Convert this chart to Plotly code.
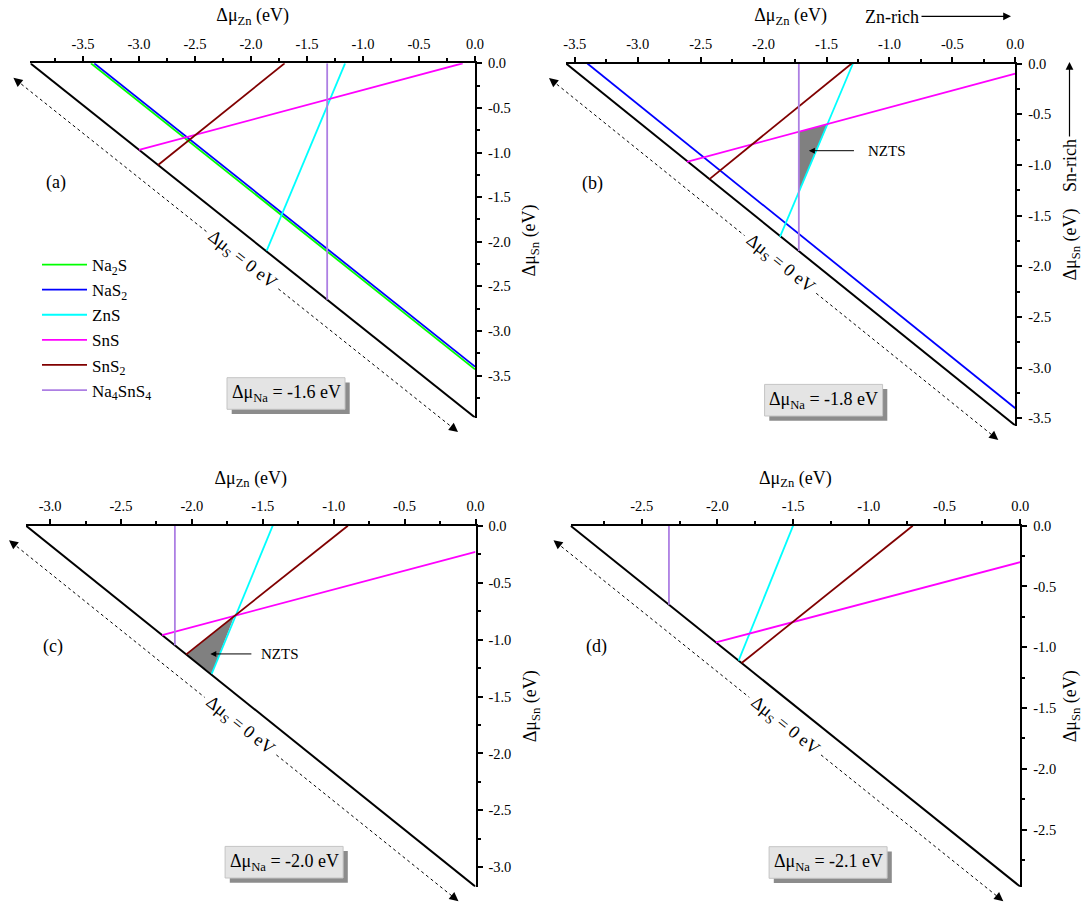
import math
import plotly.graph_objects as go

W, H = 1083, 904
FONT = "Liberation Serif"

# ---- data -------------------------------------------------------------
# Δμ_Na of each panel and the Δμ_S = 0 limit (Δμ_Zn + Δμ_Sn = limit)
panel_tags = ["(a)", "(b)", "(c)", "(d)"]
mu_na_labels = ["-1.6", "-1.8", "-2.0", "-2.1"]
s_limit = [-3.97, -3.57, -3.17, -2.97]

# tick labels of the Δμ_Zn (top) and Δμ_Sn (right) axes
zn_ticks = [
    ["-3.5", "-3.0", "-2.5", "-2.0", "-1.5", "-1.0", "-0.5", "0.0"],
    ["-3.5", "-3.0", "-2.5", "-2.0", "-1.5", "-1.0", "-0.5", "0.0"],
    ["-3.0", "-2.5", "-2.0", "-1.5", "-1.0", "-0.5", "0.0"],
    ["-2.5", "-2.0", "-1.5", "-1.0", "-0.5", "0.0"],
]
sn_ticks = [
    ["0.0", "-0.5", "-1.0", "-1.5", "-2.0", "-2.5", "-3.0", "-3.5"],
    ["0.0", "-0.5", "-1.0", "-1.5", "-2.0", "-2.5", "-3.0", "-3.5"],
    ["0.0", "-0.5", "-1.0", "-1.5", "-2.0", "-2.5", "-3.0"],
    ["0.0", "-0.5", "-1.0", "-1.5", "-2.0", "-2.5"],
]

# phase-boundary segments (Δμ_Zn, Δμ_Sn end points), keyed by panel index
na2s_x = {0: [-3.43, 0.0]}
na2s_y = {0: [0.0, -3.43]}
nas2_x = {0: [-3.40, 0.0], 1: [-3.40, 0.0]}
nas2_y = {0: [0.0, -3.40], 1: [0.0, -3.40]}
zns_x = {0: [-1.16, -1.86], 1: [-1.29, -1.87], 2: [-1.43, -1.86], 3: [-1.50, -1.86]}
zns_y = {0: [0.0, -2.10], 1: [0.0, -1.71], 2: [0.0, -1.30], 3: [0.0, -1.11]}
sns_x = {0: [-0.11, -3.00], 1: [0.0, -2.61], 2: [0.0, -2.21], 3: [0.0, -2.01]}
sns_y = {0: [0.0, -0.97], 1: [-0.10, -0.97], 2: [-0.23, -0.96], 3: [-0.30, -0.96]}
sns2_x = {0: [-1.70, -2.83], 1: [-1.30, -2.43], 2: [-0.90, -2.04], 3: [-0.71, -1.84]}
sns2_y = {0: [0.0, -1.14], 1: [0.0, -1.14], 2: [0.0, -1.13], 3: [0.0, -1.13]}
na4sns4_x = {0: [-1.32, -1.32], 1: [-1.72, -1.72], 2: [-2.12, -2.12], 3: [-2.32, -2.32]}
na4sns4_y = {0: [0.0, -2.65], 1: [0.0, -1.85], 2: [0.0, -1.05], 3: [0.0, -0.65]}

# single-phase Na2ZnSnS4 stability region
nzts_x = {1: [-1.72, -1.49, -1.72], 2: [-1.70, -2.04, -1.86]}
nzts_y = {1: [-0.67, -0.60, -1.27], 2: [-0.79, -1.13, -1.30]}
# NZTS pointer: arrow tip, arrow tail (Δμ_Zn) and label position
nzts_tip = {1: (-1.64, -0.86), 2: (-1.87, -1.126)}
nzts_tail_x = {1: -1.27, 2: -1.57}
nzts_text_x = {1: -1.02, 2: -1.38}

phases = [
    ("Na<sub>2</sub>S", "#00ff00", na2s_x, na2s_y),
    ("NaS<sub>2</sub>", "#0000ff", nas2_x, nas2_y),
    ("ZnS", "#00ffff", zns_x, zns_y),
    ("SnS", "#ff00ff", sns_x, sns_y),
    ("SnS<sub>2</sub>", "#800000", sns2_x, sns2_y),
    ("Na<sub>4</sub>SnS<sub>4</sub>", "#ad7fe3", na4sns4_x, na4sns4_y),
]

# ---- layout geometry (pixel boxes of the four plot areas) --------------
boxes = [
    (30.4, 475.0, 63.3, 417.5),
    (566.0, 1015.3, 63.5, 425.5),
    (26.0, 475.5, 525.7, 886.7),
    (570.5, 1020.3, 525.7, 886.7),
]
tag_pos = [(56, 182), (592, 184), (53, 646), (596, 646)]
na_box_center = [(286.0, 393.5), (823.6, 400.2), (284.1, 862.2), (828.1, 862.5)]


def fx(p):
    return p / W


def fy(p):
    return 1 - p / H


def note(x, y, text, size=18, **kw):
    d = dict(x=x, y=y, xref="paper", yref="paper", text=text, showarrow=False,
             xanchor="center", yanchor="middle", font=dict(size=size))
    d.update(kw)
    return d


fig = go.Figure()
layout = dict(
    width=W, height=H, margin=dict(l=0, r=0, t=0, b=0),
    template="none", paper_bgcolor="white", plot_bgcolor="white",
    font=dict(family=FONT, size=18, color="black"),
    showlegend=True,
)
shapes, annotations = [], []

for i in range(4):
    xa = "x" if i == 0 else f"x{i + 1}"
    ya = "y" if i == 0 else f"y{i + 1}"
    x0, x1, yt, yb = boxes[i]
    S = s_limit[i]

    # NZTS region underneath the boundary lines
    if i in nzts_x:
        fig.add_trace(go.Scatter(
            x=nzts_x[i], y=nzts_y[i], xaxis=xa, yaxis=ya, mode="lines",
            fill="toself", fillcolor="#808080", line=dict(width=0),
            showlegend=False, hoverinfo="skip"))

    # Δμ_S = 0 boundary of the triangle
    fig.add_trace(go.Scatter(
        x=[S, 0.0], y=[0.0, S], xaxis=xa, yaxis=ya, mode="lines",
        line=dict(color="black", width=2), showlegend=False, hoverinfo="skip"))

    for name, color, px_, py_ in phases:
        if i not in px_:
            continue
        fig.add_trace(go.Scatter(
            x=px_[i], y=py_[i], xaxis=xa, yaxis=ya, mode="lines", name=name,
            line=dict(color=color, width=1.8), showlegend=(i == 0)))

    axis_common = dict(
        showline=True, linecolor="black", linewidth=2, showgrid=False,
        zeroline=False, ticks="outside", ticklen=5, tickwidth=1.5,
        tickcolor="black", tickfont=dict(family=FONT, size=14.5),
        minor=dict(ticks="outside", ticklen=3, tickwidth=1.5, tickcolor="black",
                   tickmode="linear", tick0=0, dtick=0.25),
        automargin=False, fixedrange=True,
    )
    layout["xaxis" if i == 0 else f"xaxis{i + 1}"] = dict(
        axis_common, domain=[fx(x0), fx(x1)], range=[S, 0], side="top",
        anchor=ya, tickmode="array", tickvals=[float(t) for t in zn_ticks[i]],
        ticktext=zn_ticks[i], ticklabelstandoff=2,
        title=dict(text="Δμ<sub>Zn</sub> (eV)", font=dict(size=18), standoff=9))
    layout["yaxis" if i == 0 else f"yaxis{i + 1}"] = dict(
        axis_common, domain=[fy(yb), fy(yt)], range=[S, 0], side="right",
        anchor=xa, tickmode="array", tickvals=[float(t) for t in sn_ticks[i]],
        ticktext=sn_ticks[i], ticklabelstandoff=3,
        title=dict(text="Δμ<sub>Sn</sub> (eV)", font=dict(size=18), standoff=13))

    # panel tag
    annotations.append(note(fx(tag_pos[i][0]), fy(tag_pos[i][1]), panel_tags[i]))

    # Δμ_Na box with drop shadow
    cx, cy = na_box_center[i]
    bw, bh, sh = 59.0, 15.8, 4.7
    shapes.append(dict(type="rect", xref="paper", yref="paper",
                       x0=fx(cx - bw + sh), x1=fx(cx + bw + sh),
                       y0=fy(cy + bh + sh), y1=fy(cy - bh + sh),
                       fillcolor="#8c8c8c", line=dict(width=0), layer="above"))
    shapes.append(dict(type="rect", xref="paper", yref="paper",
                       x0=fx(cx - bw), x1=fx(cx + bw),
                       y0=fy(cy + bh), y1=fy(cy - bh),
                       fillcolor="#e4e4e4", line=dict(color="#c4c4c4", width=1),
                       layer="above"))
    annotations.append(note(fx(cx), fy(cy), f"Δμ<sub>Na</sub> = {mu_na_labels[i]} eV"))

    # dotted double arrow along the Δμ_S = 0 edge, broken by its label
    sx, sy = x0 - 17, yt + 14.5
    ex, ey = x1 - 17, yb + 14.5
    dx, dy = ex - sx, ey - sy
    L = math.hypot(dx, dy)
    ux, uy = dx / L, dy / L
    lx, ly = sx + 0.515 * dx, sy + 0.515 * dy
    gap = 46
    for (ax0, ay0, ax1, ay1) in [(sx + 4 * ux, sy + 4 * uy, lx - gap * ux, ly - gap * uy),
                                 (lx + gap * ux, ly + gap * uy, ex - 4 * ux, ey - 4 * uy)]:
        shapes.append(dict(type="line", xref="paper", yref="paper",
                           x0=fx(ax0), y0=fy(ay0), x1=fx(ax1), y1=fy(ay1),
                           line=dict(color="black", width=1, dash="dot")))
    for (tx, ty, sgn) in [(sx, sy, 1), (ex, ey, -1)]:
        annotations.append(dict(
            x=fx(tx), y=fy(ty), xref="paper", yref="paper", text="",
            showarrow=True, arrowhead=2, arrowsize=1.8, arrowwidth=1,
            arrowcolor="black", ax=sgn * ux * 10, ay=sgn * uy * 10, standoff=0))
    annotations.append(note(fx(lx), fy(ly), "Δμ<sub>S</sub> = 0 eV",
                            textangle=math.degrees(math.atan2(dy, dx))))

    # NZTS pointer
    if i in nzts_tip:
        tx, ty = nzts_tip[i]
        annotations.append(dict(
            x=tx, y=ty, xref=xa, yref=ya, axref=xa, ayref=ya,
            ax=nzts_tail_x[i], ay=ty, text="", showarrow=True, arrowhead=2,
            arrowsize=1.2, arrowwidth=1, arrowcolor="black", standoff=0))
        annotations.append(dict(
            x=nzts_text_x[i], y=ty, xref=xa, yref=ya, text="NZTS",
            xanchor="center", yanchor="middle", showarrow=False,
            font=dict(size=15)))

# Zn-rich / Sn-rich directions on panel (b)
annotations.append(note(fx(892), fy(16.7), "Zn-rich"))
annotations.append(dict(x=fx(1011), y=fy(16.3), xref="paper", yref="paper", text="",
                        showarrow=True, arrowhead=2, arrowsize=1.3, arrowwidth=1.2,
                        arrowcolor="black", ax=-91, ay=0, standoff=0))
annotations.append(note(fx(1070), fy(166), "Sn-rich", textangle=-90))
annotations.append(dict(x=fx(1069.5), y=fy(62), xref="paper", yref="paper", text="",
                        showarrow=True, arrowhead=2, arrowsize=1.3, arrowwidth=1.2,
                        arrowcolor="black", ax=0, ay=76, standoff=0))

layout["shapes"] = shapes
layout["annotations"] = annotations
layout["legend"] = dict(
    x=fx(37), y=fy(247), xanchor="left", yanchor="top",
    bgcolor="rgba(0,0,0,0)", font=dict(family=FONT, size=17),
    itemwidth=45, tracegroupgap=0)

fig.update_layout(**layout)
fig.write_html("out.html")
